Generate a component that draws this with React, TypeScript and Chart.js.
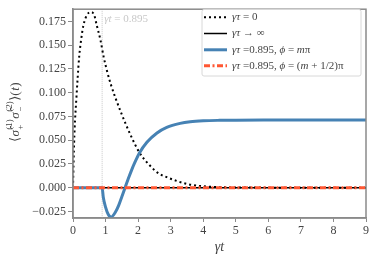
import React, { useEffect, useRef } from "react";
import { Chart, registerables } from "chart.js";

Chart.register(...registerables);

// γτ = 0 (dotted)
const tDot = [0, 0.02, 0.05, 0.1, 0.14, 0.19, 0.25, 0.32, 0.43, 0.55, 0.65, 0.73, 0.84, 0.94, 1.06, 1.16, 1.3, 1.5, 1.76, 2.04, 2.37, 2.63, 2.88, 3.19, 3.55, 3.91, 4.5, 5, 6, 7, 8, 9];
const vDot = [0, 0.03, 0.062, 0.092, 0.114, 0.138, 0.156, 0.171, 0.182, 0.185, 0.182, 0.171, 0.156, 0.138, 0.121, 0.109, 0.095, 0.077, 0.056, 0.037, 0.023, 0.015, 0.011, 0.007, 0.0035, 0.0017, 0.0005, 0.0002, 0, 0, 0, 0];

// γτ → ∞ (solid black) and φ = (m+1/2)π (red dash-dot)
const tZero = [0, 9];
const vZero = [0, 0];

// γτ = 0.895, φ = mπ (blue)
const tBlue = [0, 0.895, 0.93, 1.0, 1.08, 1.17, 1.3, 1.4, 1.5, 1.6, 1.7, 1.8, 1.9, 2.04, 2.27, 2.58, 2.88, 3.29, 3.6, 4.0, 4.5, 5, 6, 7, 8, 9];
const vBlue = [0, 0, -0.010, -0.0205, -0.028, -0.031, -0.026, -0.019, -0.0096, 0, 0.0095, 0.0185, 0.0265, 0.0365, 0.0478, 0.0576, 0.0635, 0.0677, 0.0694, 0.0704, 0.0709, 0.0711, 0.0712, 0.0712, 0.0712, 0.0712];

const tauMark = 0.895;
const xTicks = [0, 1, 2, 3, 4, 5, 6, 7, 8, 9];
const yTicks = [-0.025, 0, 0.025, 0.05, 0.075, 0.1, 0.125, 0.15, 0.175];

const legendLabels = ["γτ = 0", "γτ → ∞", "γτ =0.895, ϕ = mπ", "γτ =0.895, ϕ = (m + 1/2)π"];
// rich versions of the legend labels: [text, italic]
const legendRich: [string, boolean][][] = [
  [["γτ", true], [" = 0", false]],
  [["γτ", true], [" → ∞", false]],
  [["γτ", true], [" =0.895, ", false], ["ϕ", true], [" = ", false], ["m", true], ["π", false]],
  [["γτ", true], [" =0.895, ", false], ["ϕ", true], [" = (", false], ["m", true], [" + 1/2)π", false]],
];

const BLUE = "#4682b4";
const RED = "#ff5733";
const SERIF = "'Liberation Serif', 'DejaVu Serif', serif";

const pts = (t: number[], v: number[]) => t.map((x, i) => ({ x, y: v[i] }));

function drawRich(ctx: CanvasRenderingContext2D, parts: [string, boolean][], x: number, y: number, size: number) {
  let cx = x;
  for (const [s, it] of parts) {
    ctx.font = `${it ? "italic " : ""}${size}px ${SERIF}`;
    ctx.fillText(s, cx, y);
    cx += ctx.measureText(s).width;
  }
}

export default function App() {
  const ref = useRef<HTMLCanvasElement>(null);
  useEffect(() => {
    const ctx = ref.current!.getContext("2d")!;
    const extras = {
      id: "extras",
      beforeDatasetsDraw(chart: any) {
        const { ctx, chartArea: a, scales } = chart;
        const xv = scales.x.getPixelForValue(tauMark);
        ctx.save();
        ctx.strokeStyle = "#c8c8c8";
        ctx.lineWidth = 1;
        ctx.setLineDash([1, 1]);
        ctx.beginPath();
        ctx.moveTo(xv, a.top);
        ctx.lineTo(xv, a.bottom);
        ctx.stroke();
        ctx.setLineDash([]);
        ctx.fillStyle = "#c8c8c8";
        ctx.textBaseline = "middle";
        ctx.textAlign = "left";
        drawRich(ctx, [["γt", true], [" = 0.895", false]], xv + 2, 19, 11);
        ctx.restore();
      },
      afterDraw(chart: any) {
        const { ctx, chartArea: a } = chart;
        ctx.save();
        // frame
        ctx.strokeStyle = "#8a8a8a";
        ctx.lineWidth = 1.5;
        ctx.strokeRect(a.left, a.top, a.right - a.left, a.bottom - a.top);
        // legend
        const bx = 202, by = 9.5, bw = 159, bh = 66.5;
        ctx.fillStyle = "rgba(255,255,255,0.85)";
        ctx.strokeStyle = "#d8d8d8";
        ctx.lineWidth = 1;
        ctx.beginPath();
        ctx.roundRect(bx, by, bw, bh, 2);
        ctx.fill();
        ctx.stroke();
        const rows = [17.3, 33.5, 49.8, 65.7];
        const styles = [
          { c: "#000", w: 2, d: [2, 3] },
          { c: "#000", w: 1.5, d: [] },
          { c: BLUE, w: 3, d: [] },
          { c: RED, w: 3, d: [6, 2.5, 2, 2.5] },
        ];
        rows.forEach((y, i) => {
          const s = styles[i];
          ctx.strokeStyle = s.c;
          ctx.lineWidth = s.w;
          ctx.setLineDash(s.d);
          ctx.beginPath();
          ctx.moveTo(204, y);
          ctx.lineTo(227, y);
          ctx.stroke();
          ctx.setLineDash([]);
          ctx.fillStyle = "#444";
          ctx.textBaseline = "middle";
          ctx.textAlign = "left";
          drawRich(ctx, legendRich[i], 232, y, 11);
        });
        // y axis title, drawn with stacked super/subscripts
        ctx.translate(16, 112);
        ctx.rotate(-Math.PI / 2);
        ctx.fillStyle = "#444";
        ctx.textBaseline = "middle";
        ctx.textAlign = "left";
        const big = `13px ${SERIF}`;
        const bigI = `italic 13px ${SERIF}`;
        const small = `9px ${SERIF}`;
        const pieces: { s: string; f: string; dy: number; stackWith?: { s: string; f: string; dy: number } }[] = [
          { s: "⟨", f: big, dy: 0 },
          { s: "σ̂", f: bigI, dy: 0 },
          { s: "(1)", f: small, dy: -6, stackWith: { s: "+", f: small, dy: 5 } },
          { s: "σ̂", f: bigI, dy: 0 },
          { s: "(2)", f: small, dy: -6, stackWith: { s: "−", f: small, dy: 5 } },
          { s: "⟩(", f: big, dy: 0 },
          { s: "t", f: bigI, dy: 0 },
          { s: ")", f: big, dy: 0 },
        ];
        let total = 0;
        for (const p of pieces) {
          ctx.font = p.f;
          let w = ctx.measureText(p.s).width;
          if (p.stackWith) { ctx.font = p.stackWith.f; w = Math.max(w, ctx.measureText(p.stackWith.s).width); }
          total += w + 0.5;
        }
        let cx = -total / 2;
        for (const p of pieces) {
          ctx.font = p.f;
          let w = ctx.measureText(p.s).width;
          ctx.fillText(p.s, cx, p.dy);
          if (p.stackWith) {
            ctx.font = p.stackWith.f;
            ctx.fillText(p.stackWith.s, cx, p.stackWith.dy);
            w = Math.max(w, ctx.measureText(p.stackWith.s).width);
          }
          cx += w + 0.5;
        }
        ctx.restore();
      },
    };
    const chart = new Chart(ctx, {
      type: "line",
      data: {
        datasets: [
          { label: legendLabels[0], data: pts(tDot, vDot), borderColor: "#000", borderWidth: 2, borderDash: [2, 3], cubicInterpolationMode: "monotone", pointRadius: 0, order: 4 },
          { label: legendLabels[1], data: pts(tZero, vZero), borderColor: "#000", borderWidth: 1.5, pointRadius: 0, order: 3 },
          { label: legendLabels[2], data: pts(tBlue, vBlue), borderColor: BLUE, borderWidth: 3, cubicInterpolationMode: "monotone", pointRadius: 0, order: 2 },
          { label: legendLabels[3], data: pts(tZero, vZero), borderColor: RED, borderWidth: 3, borderDash: [6, 2.5, 2, 2.5], pointRadius: 0, order: 1 },
        ],
      },
      options: {
        responsive: false,
        animation: false,
        devicePixelRatio: 1,
        layout: { padding: { left: 0, top: 4, right: 8, bottom: 0 } },
        plugins: { legend: { display: false }, tooltip: { enabled: false } },
        scales: {
          x: {
            type: "linear",
            min: 0,
            max: 9,
            afterBuildTicks: (s: any) => { s.ticks = xTicks.map((v) => ({ value: v })); },
            afterFit: (s: any) => { s.height = 40; },
            ticks: { color: "#444", font: { family: SERIF, size: 12 }, padding: 2, maxRotation: 0 },
            grid: { drawOnChartArea: false, drawTicks: true, tickLength: 4, color: "#8a8a8a" },
            border: { display: true, color: "#8a8a8a", width: 1.5 },
            title: { display: true, text: "γt", color: "#444", font: { family: SERIF, size: 14, style: "italic" }, padding: { top: 0, bottom: 2 } },
          },
          y: {
            type: "linear",
            min: -0.032,
            max: 0.188,
            afterBuildTicks: (s: any) => { s.ticks = yTicks.map((v) => ({ value: v })); },
            afterFit: (s: any) => { s.width = 73; },
            ticks: {
              color: "#444",
              font: { family: SERIF, size: 12 },
              padding: 2,
              callback: (v: any) => (v < 0 ? "−" : "") + Math.abs(Number(v)).toFixed(3),
            },
            grid: { drawOnChartArea: false, drawTicks: true, tickLength: 5, color: "#8a8a8a" },
            border: { display: true, color: "#8a8a8a", width: 1.5 },
          },
        },
      },
      plugins: [extras],
    } as any);
    return () => chart.destroy();
  }, []);
  return (
    <div style={{ position: "fixed", left: 0, top: 0, width: 374, height: 258, background: "#fff" }}>
      <canvas ref={ref} width={374} height={258} />
    </div>
  );
}
